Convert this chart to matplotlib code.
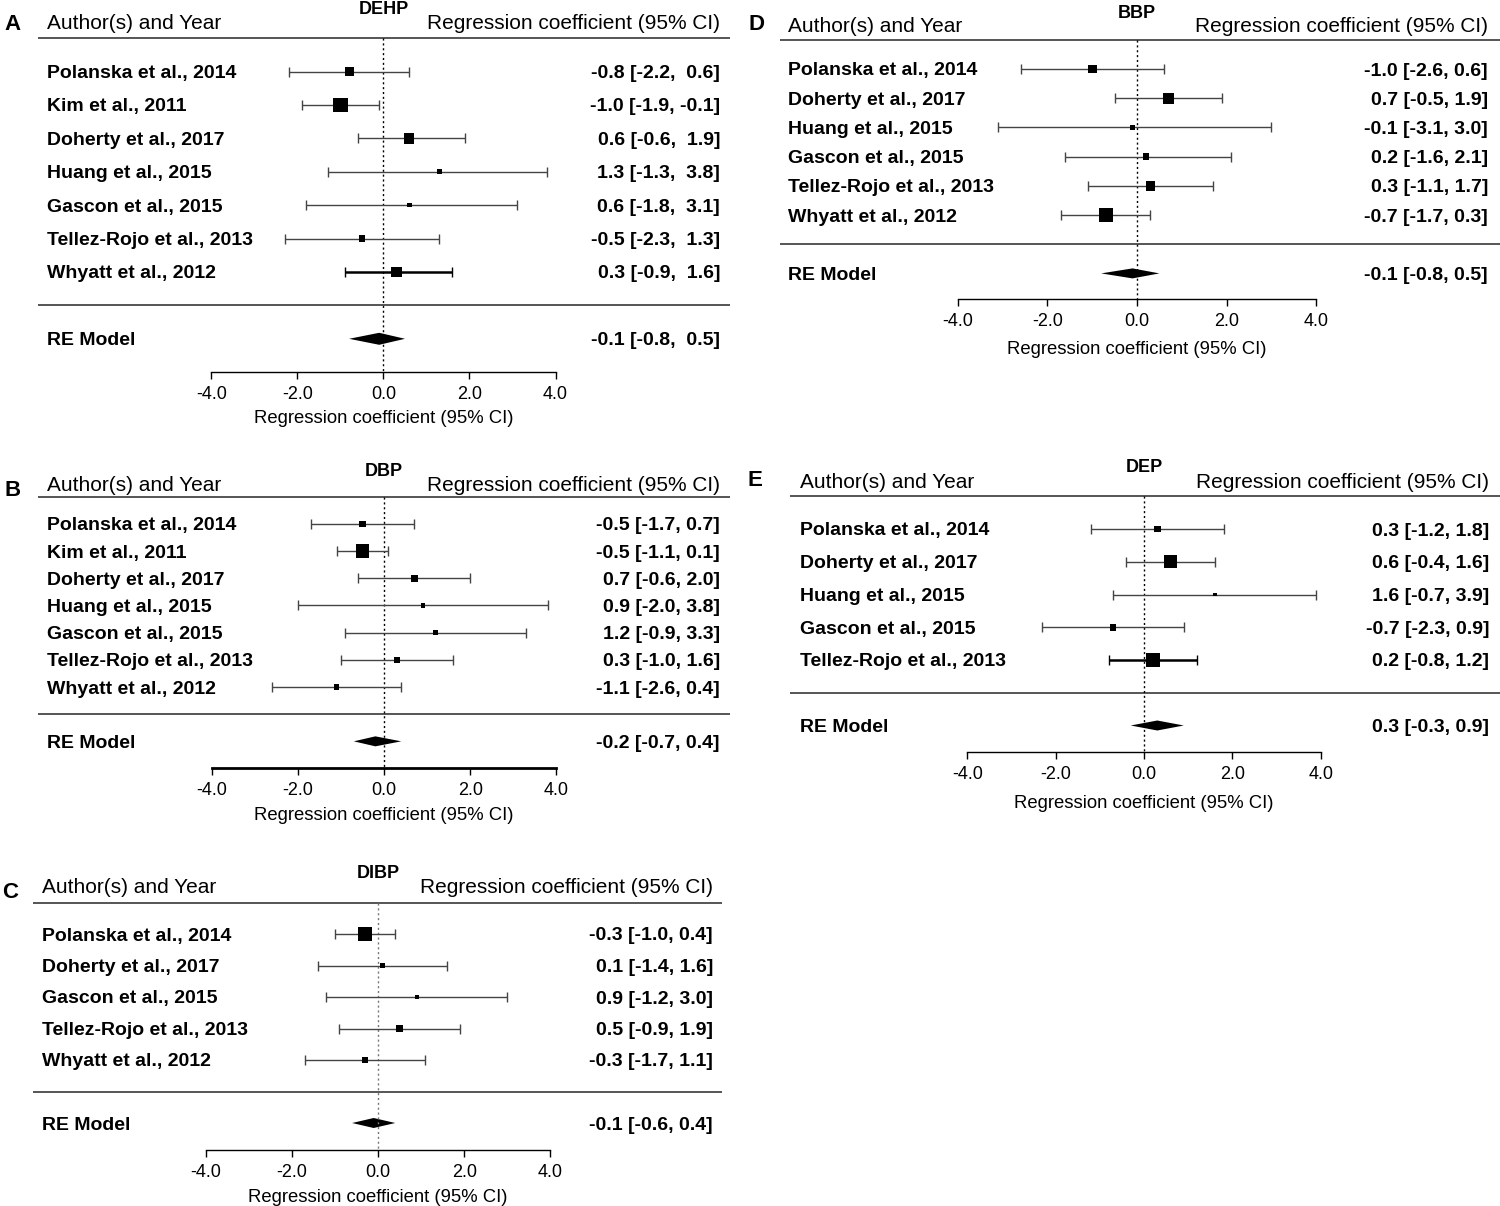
import numpy as np
import matplotlib
matplotlib.use('Agg')
import matplotlib.pyplot as plt

plt.rcParams['font.family'] = ['Liberation Sans', 'DejaVu Sans']

# study data per phthalate: estimate, 95% CI, relative weight
studies_dehp = ['Polanska et al., 2014', 'Kim et al., 2011', 'Doherty et al., 2017', 'Huang et al., 2015',
                'Gascon et al., 2015', 'Tellez-Rojo et al., 2013', 'Whyatt et al., 2012']
est_dehp = [-0.8, -1.0, 0.6, 1.3, 0.6, -0.5, 0.3]
lo_dehp = [-2.2, -1.9, -0.6, -1.3, -1.8, -2.3, -0.9]
hi_dehp = [0.6, -0.1, 1.9, 3.8, 3.1, 1.3, 1.6]
w_dehp = [8, 12.7, 9.3, 4.7, 4, 6, 9.3]
re_dehp = [-0.1, -0.8, 0.5]

studies_dbp = ['Polanska et al., 2014', 'Kim et al., 2011', 'Doherty et al., 2017', 'Huang et al., 2015',
               'Gascon et al., 2015', 'Tellez-Rojo et al., 2013', 'Whyatt et al., 2012']
est_dbp = [-0.5, -0.5, 0.7, 0.9, 1.2, 0.3, -1.1]
lo_dbp = [-1.7, -1.1, -0.6, -2.0, -0.9, -1.0, -2.6]
hi_dbp = [0.7, 0.1, 2.0, 3.8, 3.3, 1.6, 0.4]
w_dbp = [6, 12, 6, 4, 4, 5.3, 4.7]
re_dbp = [-0.2, -0.7, 0.4]

studies_dibp = ['Polanska et al., 2014', 'Doherty et al., 2017', 'Gascon et al., 2015',
                'Tellez-Rojo et al., 2013', 'Whyatt et al., 2012']
est_dibp = [-0.3, 0.1, 0.9, 0.5, -0.3]
lo_dibp = [-1.0, -1.4, -1.2, -0.9, -1.7]
hi_dibp = [0.4, 1.6, 3.0, 1.9, 1.1]
w_dibp = [12.7, 4.7, 3.3, 6, 4.7]
re_dibp = [-0.1, -0.6, 0.4]

studies_bbp = ['Polanska et al., 2014', 'Doherty et al., 2017', 'Huang et al., 2015', 'Gascon et al., 2015',
               'Tellez-Rojo et al., 2013', 'Whyatt et al., 2012']
est_bbp = [-1.0, 0.7, -0.1, 0.2, 0.3, -0.7]
lo_bbp = [-2.6, -0.5, -3.1, -1.6, -1.1, -1.7]
hi_bbp = [0.6, 1.9, 3.0, 2.1, 1.7, 0.3]
w_bbp = [8, 10, 4.7, 6, 8.7, 12.7]
re_bbp = [-0.1, -0.8, 0.5]

studies_dep = ['Polanska et al., 2014', 'Doherty et al., 2017', 'Huang et al., 2015', 'Gascon et al., 2015',
               'Tellez-Rojo et al., 2013']
est_dep = [0.3, 0.6, 1.6, -0.7, 0.2]
lo_dep = [-1.2, -0.4, -0.7, -2.3, -0.8]
hi_dep = [1.8, 1.6, 3.9, 0.9, 1.2]
w_dep = [6, 11.3, 3.3, 6, 12.7]
re_dep = [0.3, -0.3, 0.9]

ticks = [-4, -2, 0, 2, 4]

W, H = 1500, 1206
fig = plt.figure(figsize=(W / 100, H / 100), dpi=100)


def fmt_col(vals):
    s = ['%.1f' % v for v in vals]
    n = max(len(t) for t in s)
    return [t.rjust(n) for t in s]


# lay: pixel layout of one panel
def forest(lay, letter, title, studies, est, lo, hi, w, re, thick=None, axis_lw=1.0, ref_col='k'):
    L, R, zero, ppu = lay['L'], lay['R'], lay['zero'], lay['ppu']
    row1, sp, axis_px = lay['row1'], lay['sp'], lay['axis']
    top_px = lay['title_y'] - 12
    k = len(studies)
    dx = lambda p: (p - zero) / ppu
    dy = lambda p: 1 + (row1 - p) / sp

    ax = fig.add_axes([L / W, 1 - axis_px / H, (R - L) / W, (axis_px - top_px) / H])
    ax.set_xlim(dx(L), dx(R))
    ax.set_ylim(dy(axis_px), dy(top_px))
    ax.patch.set_visible(False)
    for s in ['top', 'left', 'right']:
        ax.spines[s].set_visible(False)
    ax.spines['bottom'].set_bounds(-4, 4)
    ax.spines['bottom'].set_linewidth(axis_lw)
    ax.set_yticks([])
    ax.set_xticks(ticks)
    ax.set_xticklabels(['%.1f' % t for t in ticks], fontsize=13)
    ax.tick_params(axis='x', direction='out', length=5, width=1, pad=5)

    rows = np.arange(k, 0, -1)
    ax.axhline(k + 1, color='#555555', lw=1.4)
    ax.axhline(0, color='#555555', lw=1.4)
    ax.plot([0, 0], [k + 1, dy(axis_px)], ls=(0, (1.5, 2)), color=ref_col, lw=1)

    est = np.array(est)
    lo = np.array(lo)
    hi = np.array(hi)
    for i in range(k):
        lw = 1.8 if thick == i else 1.0
        col = 'k' if thick == i else '#444444'
        ax.errorbar(est[i], rows[i], xerr=[[est[i] - lo[i]], [hi[i] - est[i]]], fmt='none',
                    ecolor=col, elinewidth=lw, capsize=3.8, capthick=1.0)
    ax.scatter(est, rows, s=(np.array(w) * 0.8) ** 2, marker='s', color='k', zorder=3, linewidths=0)

    h = lay['dh'] / sp
    ax.fill([re[1], re[0], re[2], re[0]], [-1, -1 + h, -1, -1 - h], color='k', lw=0)

    e_s = fmt_col(list(est) + [re[0]])
    l_s = fmt_col(list(lo) + [re[1]])
    h_s = fmt_col(list(hi) + [re[2]])
    labels = [('%s [%s, %s]' % (a, b, c)).lstrip() for a, b, c in zip(e_s, l_s, h_s)]

    nx = dx(lay['name_x'])
    vx = dx(lay['val_x'])
    va = 'center_baseline'
    for i in range(k):
        ax.text(nx, rows[i], studies[i], fontsize=14, fontweight='bold', ha='left', va=va)
        ax.text(vx, rows[i], labels[i], fontsize=14, fontweight='bold', ha='right', va=va)
    ax.text(nx, -1, 'RE Model', fontsize=14, fontweight='bold', ha='left', va=va)
    ax.text(vx, -1, labels[-1], fontsize=14, fontweight='bold', ha='right', va=va)

    hy = dy(lay['head_y'])
    ax.text(nx, hy, 'Author(s) and Year', fontsize=15, ha='left', va=va)
    ax.text(vx, hy, 'Regression coefficient (95% CI)', fontsize=15, ha='right', va=va)
    ax.text(0, dy(lay['title_y']), title, fontsize=13, fontweight='bold', ha='center', va=va)
    ax.text(0, dy(lay['xlab_y']), 'Regression coefficient (95% CI)', fontsize=13.3, ha='center',
            va=va, clip_on=False)
    lx, ly = lay['letter']
    ax.text(dx(lx), dy(ly), letter, fontsize=16, fontweight='bold', ha='left', va=va, clip_on=False)
    return ax


lay_a = dict(L=38, R=730, zero=383.5, ppu=43.0, row1=272, sp=33.4, axis=372, head_y=22, title_y=8,
             letter=(4, 22), xlab_y=417, name_x=47, val_x=720, dh=6)
lay_b = dict(L=38, R=730, zero=384, ppu=43.1, row1=687, sp=27.17, axis=768, head_y=484, title_y=470,
             letter=(4, 488), xlab_y=814, name_x=47, val_x=720, dh=5)
lay_c = dict(L=33, R=722, zero=378, ppu=43.1, row1=1060, sp=31.5, axis=1150, head_y=886, title_y=872,
             letter=(2, 890), xlab_y=1195, name_x=42, val_x=713, dh=5)
lay_d = dict(L=780, R=1500, zero=1137, ppu=44.8, row1=215, sp=29.2, axis=299, head_y=25, title_y=12,
             letter=(748, 22), xlab_y=348, name_x=788, val_x=1488, dh=5)
lay_e = dict(L=790, R=1500, zero=1144, ppu=44.2, row1=660, sp=32.75, axis=752, head_y=481, title_y=465,
             letter=(748, 478), xlab_y=801, name_x=800, val_x=1489, dh=5)

forest(lay_a, 'A', 'DEHP', studies_dehp, est_dehp, lo_dehp, hi_dehp, w_dehp, re_dehp, thick=6)
forest(lay_b, 'B', 'DBP', studies_dbp, est_dbp, lo_dbp, hi_dbp, w_dbp, re_dbp, axis_lw=2.0)
forest(lay_c, 'C', 'DIBP', studies_dibp, est_dibp, lo_dibp, hi_dibp, w_dibp, re_dibp, ref_col='#777777')
forest(lay_d, 'D', 'BBP', studies_bbp, est_bbp, lo_bbp, hi_bbp, w_bbp, re_bbp)
forest(lay_e, 'E', 'DEP', studies_dep, est_dep, lo_dep, hi_dep, w_dep, re_dep, thick=4)

fig.savefig('out.png', dpi=100)
